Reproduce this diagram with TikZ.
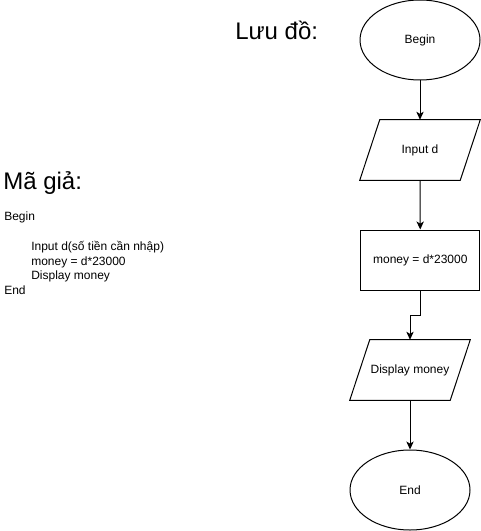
\documentclass[tikz,border=0pt]{standalone}
\usepackage{fontspec}
\setmainfont{Liberation Sans}
\usetikzlibrary{shapes.geometric,arrows.meta}
\begin{document}
\begin{tikzpicture}[x=0.75pt,y=-0.75pt,
  every node/.style={font=\fontsize{9pt}{10.8pt}\selectfont},
  shp/.style={draw,line width=0.75pt,inner sep=0pt,align=center},
  term/.style={shp,ellipse,minimum width=90pt,minimum height=60pt},
  io/.style={rectangle,inner sep=0pt,align=center,minimum width=90pt,minimum height=45pt},
  ioline/.style={draw,line width=0.75pt,line join=miter},
  proc/.style={shp,rectangle,minimum width=89.5pt,minimum height=45pt},
  conn/.style={line width=0.75pt,-{Stealth[length=6pt,width=5.5pt,inset=1.6pt]}},
  title/.style={font=\fontsize{18pt}{21.6pt}\selectfont,anchor=base west,inner sep=0pt},
  code/.style={anchor=base west,inner sep=0pt}]
\useasboundingbox (0,0) rectangle (481,531);
\fill[white] (0,0) rectangle (481,531);
% titles
\node[title] (t1) at (235,40) {Lưu đồ:};
\node[title] (t2) at (3,189) {Mã giả:};
% pseudocode
\node[code] (c1) at (4,220) {Begin};
\node[code] (c2) at (31,250) {Input d(số tiền cần nhập)};
\node[code] (c3) at (31,265) {money = d*23000};
\node[code] (c4) at (31,279) {Display money};
\node[code] (c5) at (4,294) {End};
% flowchart
\node[term] (begin) at (420,40) {Begin};
\node[io] (inp) at (420,150) {Input d};
\node[proc] (calc) at (420.3,260) {money = d*23000};
\node[io] (disp) at (410,370) {Display money};
\node[term] (end) at (410,490) {End};
\foreach \n in {inp,disp}
  \path[ioline] ([xshift=15pt]\n.north west) -- (\n.north east)
    -- ([xshift=-15pt]\n.south east) -- (\n.south west) -- cycle;
\draw[conn] (begin) -- (inp);
\draw[conn] (inp) -- (calc);
\draw[conn] (calc.south) -- ++(0,25) -| (disp.north);
\draw[conn] (disp) -- (end);
\end{tikzpicture}
\end{document}
